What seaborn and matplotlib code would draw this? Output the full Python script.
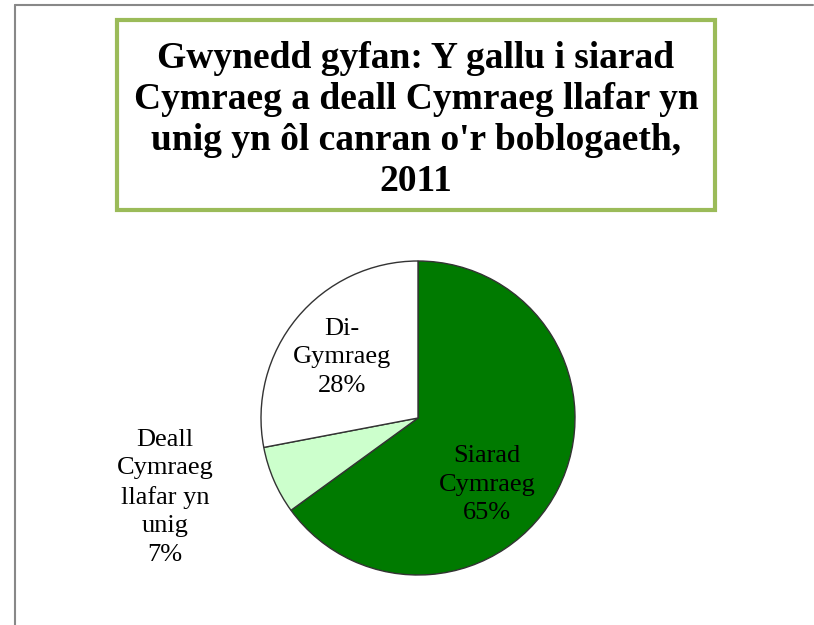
"""Gwynedd: Welsh speaking ability pie chart, 2011."""

import numpy as np
import matplotlib.pyplot as plt
import seaborn as sns
from matplotlib.patches import Rectangle

# data
categories = ["Siarad\nCymraeg", "Deall\nCymraeg\nllafar yn\nunig", "Di-\nGymraeg"]
shares = [65, 7, 28]
slice_colors = ["#007a00", "#ccffcc", "#ffffff"]
title = "Gwynedd gyfan: Y gallu i siarad\nCymraeg a deall Cymraeg llafar yn\nunig yn ôl canran o'r boblogaeth,\n2011"

# label placement (angle offset in degrees, radial distance)
label_place = [(-17, 0.61), (-6, 1.69), (1, 0.62)]

sns.set_theme(style="white")
plt.rcParams['font.family'] = ['Liberation Serif', 'DejaVu Serif']

fig = plt.figure(figsize=(8.14, 6.25), dpi=100)

# outer frame lines (top and left)
fig.add_artist(plt.Line2D([15 / 814, 813 / 814], [1 - 5 / 625, 1 - 5 / 625],
                          color="#888888", lw=1.5, transform=fig.transFigure))
fig.add_artist(plt.Line2D([15 / 814, 15 / 814], [1 - 5 / 625, 0],
                          color="#888888", lw=1.5, transform=fig.transFigure))

# title box
fig.add_artist(Rectangle((117 / 814, 1 - 210 / 625), (715 - 117) / 814, 190 / 625,
                         transform=fig.transFigure, facecolor="white",
                         edgecolor="#9bbb59", lw=3))
fig.text(416 / 814, 1 - 120 / 625, title, ha="center", va="center",
         fontsize=27, fontweight="bold", linespacing=1.23, color="black")

r = 157
cx, cy = 418, 418
ax = fig.add_axes([(cx - r) / 814, 1 - (cy + r) / 625, 2 * r / 814, 2 * r / 625])
wedges, _ = ax.pie(shares, colors=slice_colors, startangle=90, counterclock=False,
                   wedgeprops=dict(edgecolor="#333333", linewidth=1))
ax.set_xlim(-1, 1)
ax.set_ylim(-1, 1)
ax.set_aspect("equal")
ax.axis("off")

for w, lab, pct, (off, dist) in zip(wedges, categories, shares, label_place):
    mid = np.deg2rad((w.theta1 + w.theta2) / 2 + off)
    ax.text(dist * np.cos(mid), dist * np.sin(mid), f"{lab}\n{pct}%",
            ha="center", va="center", fontsize=19, linespacing=1.38,
            color="black", clip_on=False)

fig.savefig("out.png", dpi=100)
